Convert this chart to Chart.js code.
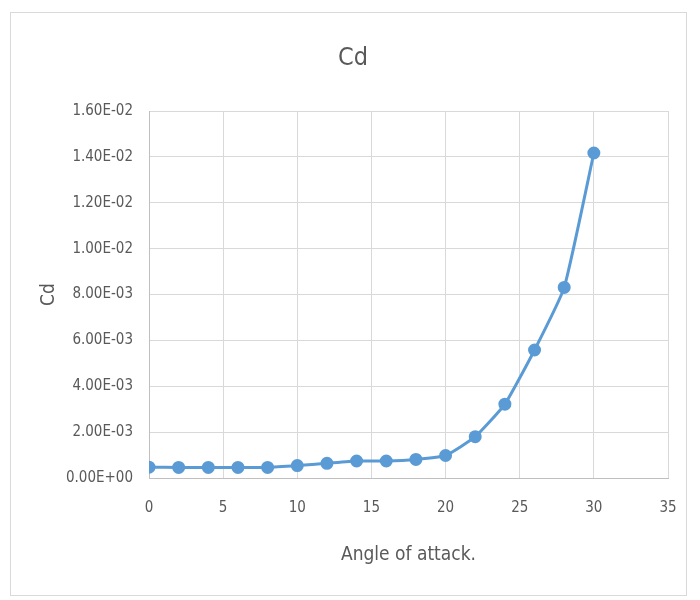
<!DOCTYPE html>
<html>
<head>
<meta charset="utf-8">
<script src="https://cdn.jsdelivr.net/npm/chart.js@4/dist/chart.umd.min.js"></script>
<style>
  body { margin: 0; background: #fff; }
  #frame { position: absolute; left: 10px; top: 12px; width: 675px; height: 582px; border: 1px solid #d9d9d9; }
  canvas { position: absolute; left: 0; top: 0; }
</style>
</head>
<body>
<div id="frame"></div>
<canvas id="chartCd" width="700" height="600"></canvas>
<script>
const angles = [0, 2, 4, 6, 8, 10, 12, 14, 16, 18, 20, 22, 24, 26, 28, 30];
const cdValues = [0.00047, 0.00046, 0.00046, 0.00046, 0.00046, 0.00054, 0.00064, 0.00074, 0.00074, 0.00081, 0.00098,
  0.0018, 0.00322, 0.00558, 0.00831, 0.01417];
const xTicks = [0, 5, 10, 15, 20, 25, 30, 35];
const yTicks = [0, 0.002, 0.004, 0.006, 0.008, 0.01, 0.012, 0.014, 0.016];

const textColor = '#595959';
const fontFamily = "'DejaVu Sans Condensed', 'Liberation Sans', sans-serif";

// Excel style scientific labels, e.g. 1.60E-02
function sci(v) {
  if (Math.abs(v) < 1e-12) return '0.00E+00';
  let e = Math.floor(Math.log10(Math.abs(v)) + 1e-9);
  let m = v / Math.pow(10, e);
  let sign = e < 0 ? '-' : '+';
  let ee = String(Math.abs(e)).padStart(2, '0');
  return m.toFixed(2) + 'E' + sign + ee;
}

new Chart(document.getElementById('chartCd'), {
  type: 'line',
  data: {
    datasets: [{
      label: 'Cd',
      data: angles.map((a, i) => ({ x: a, y: cdValues[i] })),
      borderColor: '#5b9bd5',
      backgroundColor: '#5b9bd5',
      borderWidth: 3,
      pointRadius: 5,
      pointHoverRadius: 5,
      tension: 0.15,
      fill: false
    }]
  },
  options: {
    responsive: false,
    animation: false,
    layout: { padding: { left: 38, right: 32, top: 43, bottom: 34 } },
    plugins: {
      legend: { display: false },
      tooltip: { enabled: false },
      title: {
        display: true,
        text: 'Cd',
        color: textColor,
        font: { family: fontFamily, size: 25, weight: 'normal' },
        padding: { top: 0, bottom: 38 }
      }
    },
    scales: {
      x: {
        type: 'linear',
        min: 0,
        max: 35,
        afterBuildTicks: s => { s.ticks = xTicks.map(v => ({ value: v })); },
        ticks: { color: textColor, font: { family: fontFamily, size: 15 }, padding: 21 },
        grid: { color: '#d9d9d9', drawTicks: false },
        border: { color: '#bfbfbf', width: 1 },
        title: {
          display: true,
          text: 'Angle of attack.',
          color: textColor,
          font: { family: fontFamily, size: 19 },
          padding: { top: 8, bottom: 0 }
        },
        afterFit: s => { s.height = 88; }
      },
      y: {
        min: 0,
        max: 0.016,
        afterBuildTicks: s => { s.ticks = yTicks.map(v => ({ value: v })); },
        ticks: { color: textColor, font: { family: fontFamily, size: 15 }, padding: 16, callback: v => sci(v) },
        grid: { color: '#d9d9d9', drawTicks: false },
        border: { color: '#bfbfbf', width: 1 },
        title: {
          display: true,
          text: 'Cd',
          color: textColor,
          font: { family: fontFamily, size: 19 },
          padding: { top: 0, bottom: 4 }
        },
        afterFit: s => { s.width = 111; }
      }
    }
  }
});
</script>
</body>
</html>
